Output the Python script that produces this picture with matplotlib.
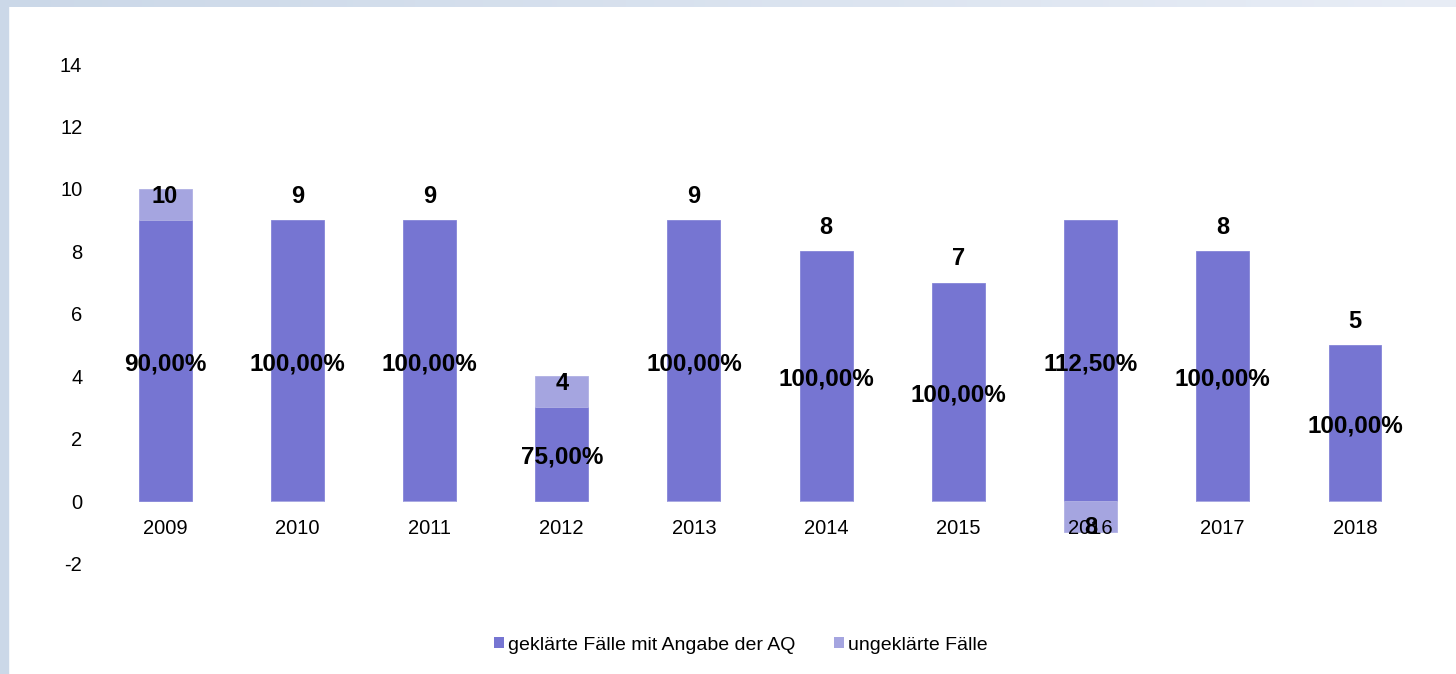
import matplotlib.pyplot as plt
import numpy as np
from matplotlib.patches import Patch
from matplotlib import transforms
from matplotlib.colors import LinearSegmentedColormap

plt.rcParams['font.family'] = ['Liberation Sans', 'DejaVu Sans']

# data
jahre = ['2009', '2010', '2011', '2012', '2013', '2014', '2015', '2016', '2017', '2018']
geklaert = [9, 9, 9, 3, 9, 8, 7, 9, 8, 5]
ungeklaert = [1, 0, 0, 1, 0, 0, 0, -1, 0, 0]
y_ticks = [-2, 0, 2, 4, 6, 8, 10, 12, 14]

dunkel = '#7675D2'
hell = '#A5A5E0'

fig = plt.figure(figsize=(14.56, 6.74), dpi=100)

# light blue frame at top and left
strip = fig.add_axes([0, 1 - 7 / 674, 1, 7 / 674])
grad = np.linspace(0, 1, 256).reshape(1, -1)
cmap = LinearSegmentedColormap.from_list('rand', ['#CBD8E8', '#E8EDF6'])
strip.imshow(grad, aspect='auto', cmap=cmap)
strip.axis('off')
fig.patches.append(plt.Rectangle((0, 0), 8 / 1456, 1, transform=fig.transFigure,
                                 color='#CBD8E8', zorder=0))

ax = fig.add_axes([0.068, 0.1638, 0.908, 0.7412])
x = np.arange(len(jahre))
breite = 0.4

ax.bar(x, geklaert, breite, color=dunkel, edgecolor='#8585D8', linewidth=0.6)
ax.bar(x, ungeklaert, breite, bottom=[g if u > 0 else 0 for g, u in zip(geklaert, ungeklaert)],
       color=hell, edgecolor='#B0B0E4', linewidth=0.6)

ax.set_xlim(-0.5, len(jahre) - 0.5)
ax.set_ylim(-2, 14)
ax.set_yticks(y_ticks)
ax.set_yticklabels([str(t) for t in y_ticks])
ax.set_xticks(x)
ax.set_xticklabels(jahre)
ax.tick_params(axis='both', length=0, colors='black', labelsize=14.5)
ax.tick_params(axis='y', pad=12)
ax.tick_params(axis='x', pad=13)
for s in ['top', 'right', 'left']:
    ax.spines[s].set_visible(False)
ax.spines['bottom'].set_position(('data', 0))
ax.spines['bottom'].set_visible(False)

# value labels
oben = transforms.offset_copy(ax.transData, fig=fig, x=0, y=24, units='dots')
unten = transforms.offset_copy(ax.transData, fig=fig, x=0, y=5, units='dots')
for i in range(len(jahre)):
    gesamt = geklaert[i] + ungeklaert[i]
    if ungeklaert[i] < 0:
        ax.text(x[i], ungeklaert[i], str(gesamt), transform=unten, ha='center', va='center',
                fontsize=17, fontweight='bold')
    else:
        ax.text(x[i], geklaert[i], str(gesamt), transform=oben, ha='center', va='center',
                fontsize=17, fontweight='bold')
    pct = geklaert[i] / gesamt * 100
    ax.text(x[i], geklaert[i] / 2 - 0.1, f'{pct:.2f}%'.replace('.', ','), ha='center', va='center',
            fontsize=17.5, fontweight='bold')

handles = [Patch(facecolor=dunkel, edgecolor='none'), Patch(facecolor=hell, edgecolor='none')]
fig.legend(handles, ['geklärte Fälle mit Angabe der AQ', 'ungeklärte Fälle'],
           loc='center', bbox_to_anchor=(741 / 1456, 1 - 645 / 674), ncol=2, frameon=False,
           fontsize=14, handlelength=0.5, handleheight=0.5, handletextpad=0.2,
           columnspacing=2.0)

fig.savefig('out.png', dpi=100)
